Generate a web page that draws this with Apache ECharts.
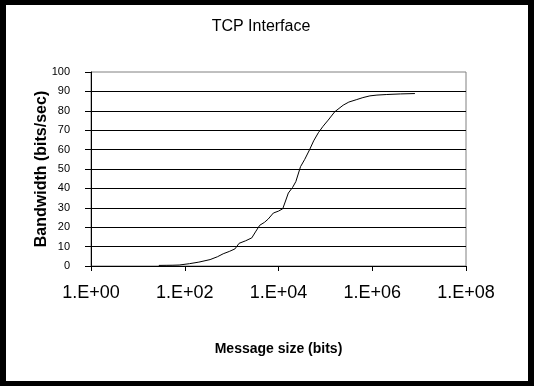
<!DOCTYPE html>
<html>
<head>
<meta charset="utf-8">
<script src="https://cdn.jsdelivr.net/npm/echarts@6/dist/echarts.min.js"></script>
<style>
html,body{margin:0;padding:0;background:#000;width:534px;height:386px;overflow:hidden;}
#c{position:absolute;left:6px;top:5px;width:522px;height:376px;background:#fff;}
</style>
</head>
<body>
<div id="c"></div>
<script>
const titleText = 'TCP Interface';
const xAxisTitle = 'Message size (bits)';
const yAxisTitle = 'Bandwidth (bits/sec)';
const messageSizes = [28, 40, 56, 76, 126, 200, 347, 501, 661, 891, 1175, 1445, 1995, 2692, 3311, 3981, 5012, 6026, 7762, 10000, 12303, 14125, 16218, 19953, 23442, 29512, 36308, 45709, 56234, 70795, 89125, 114815, 158489, 239883, 316228, 467735, 630957, 891251, 1258925, 2041738, 3981072, 8128305];
const bandwidth = [0.3, 0.35, 0.4, 0.5, 1.2, 2, 3.3, 4.8, 6.3, 7.5, 8.8, 11.7, 13, 14.5, 18, 21, 22.5, 24.2, 27.3, 28.3, 29.5, 33.5, 37.6, 40.5, 43.5, 51.2, 55, 59.8, 64.5, 68.7, 72, 75.2, 79.5, 82.9, 84.5, 85.8, 86.8, 87.7, 88.1, 88.4, 88.7, 88.9];
const xMin = 1, xMax = 1e8;
const yMin = 0, yMax = 100, yStep = 10;

const chart = echarts.init(document.getElementById('c'), null, {renderer: 'canvas'});
const font = 'Liberation Sans, Arial, sans-serif';
chart.setOption({
  backgroundColor: '#fff',
  animation: false,
  title: {
    text: titleText,
    left: 255, top: 14, textAlign: 'center', padding: 0,
    textStyle: {fontFamily: font, fontSize: 16, fontWeight: 'normal', color: '#000'}
  },
  grid: {left: 85, right: 62, top: 67, bottom: 115, show: true, borderColor: '#808080', borderWidth: 1, backgroundColor: 'transparent'},
  xAxis: {
    type: 'log', logBase: 100, min: xMin, max: xMax, splitNumber: 4,
    name: xAxisTitle, nameLocation: 'middle', nameGap: 76, nameMoveOverlap: false,
    nameTextStyle: {fontFamily: font, fontSize: 14, fontWeight: 'bold', color: '#000'},
    axisLine: {show: true, lineStyle: {color: '#000', width: 1}},
    axisTick: {show: true, inside: false, length: 5, lineStyle: {color: '#000'}},
    axisLabel: {
      margin: 18, fontFamily: font, fontSize: 18, color: '#000',
      formatter: v => { const e = Math.round(Math.log10(v)); return '1.E+' + (e < 10 ? '0' : '') + e; }
    },
    splitLine: {show: false},
    minorTick: {show: false}
  },
  yAxis: {
    type: 'value', min: yMin, max: yMax, interval: yStep,
    name: yAxisTitle, nameLocation: 'middle', nameGap: 41, nameMoveOverlap: false,
    nameTextStyle: {fontFamily: font, fontSize: 16, fontWeight: 'bold', color: '#000'},
    axisLine: {show: true, lineStyle: {color: '#000', width: 1}},
    axisTick: {show: true, inside: false, length: 6, lineStyle: {color: '#000'}},
    axisLabel: {margin: 21, fontFamily: font, fontSize: 11, color: '#000'},
    splitLine: {show: true, showMaxLine: false, showMinLine: false, lineStyle: {color: '#000', width: 1}}
  },
  series: [{
    type: 'line',
    data: messageSizes.map((s, i) => [s, bandwidth[i]]),
    showSymbol: false, symbol: 'none', smooth: false,
    lineStyle: {color: '#000', width: 1},
    itemStyle: {color: '#000'}
  }]
});
</script>
</body>
</html>
